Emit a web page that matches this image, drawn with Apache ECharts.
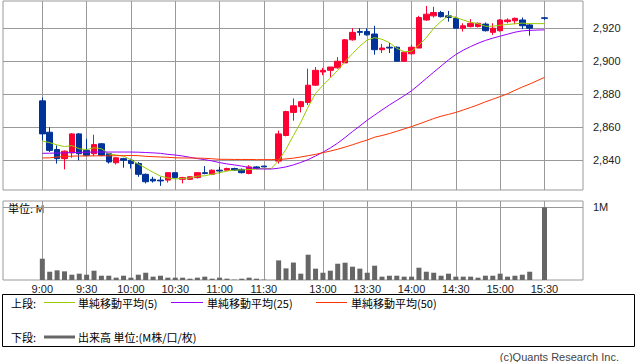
<!DOCTYPE html>
<html><head><meta charset="utf-8">
<script src="https://cdn.jsdelivr.net/npm/echarts@6/dist/echarts.min.js"></script>
<style>html,body{margin:0;padding:0;background:#fff}#c{width:638px;height:362px}</style>
</head><body><div id="c"></div>
<script>
// category slots (5-minute bars, incl. padding / lunch gap / closing-auction gap)
const slots = ['8:35','8:40','8:45','8:50','8:55',
 '9:00','9:05','9:10','9:15','9:20','9:25','9:30','9:35','9:40','9:45','9:50','9:55',
 '10:00','10:05','10:10','10:15','10:20','10:25','10:30','10:35','10:40','10:45','10:50','10:55',
 '11:00','11:05','11:10','11:15','11:20','11:25','11:30','11:35',
 '12:30','12:35','12:40','12:45','12:50','12:55',
 '13:00','13:05','13:10','13:15','13:20','13:25','13:30','13:35','13:40','13:45','13:50','13:55',
 '14:00','14:05','14:10','14:15','14:20','14:25','14:30','14:35','14:40','14:45','14:50','14:55',
 '15:00','15:05','15:10','15:15','15:20','15:25','15:30',
 '15:35','15:40','15:45','15:50','15:55'];
const tickLabels = ['9:00','9:30','10:00','10:30','11:00','11:30','13:00','13:30','14:00','14:30','15:00','15:30'];
const priceTicks = [2840, 2860, 2880, 2900, 2920];
const volTicks = [1];

const barTimes = ['9:00','9:05','9:10','9:15','9:20','9:25','9:30','9:35','9:40','9:45','9:50','9:55',
 '10:00','10:05','10:10','10:15','10:20','10:25','10:30','10:35','10:40','10:45','10:50','10:55',
 '11:00','11:05','11:10','11:15','11:20','11:25','11:30',
 '12:30','12:35','12:40','12:45','12:50','12:55',
 '13:00','13:05','13:10','13:15','13:20','13:25','13:30','13:35','13:40','13:45','13:50','13:55',
 '14:00','14:05','14:10','14:15','14:20','14:25','14:30','14:35','14:40','14:45','14:50','14:55',
 '15:00','15:05','15:10','15:15','15:20','15:30'];
const openP = [2876,2857,2846.5,2841,2844.5,2856,2846,2844,2850,2844,2838.5,2841,
 2840,2838,2831.5,2828.5,2828,2828,2832.5,2828.5,2828.5,2829.5,2832.5,2831.5,
 2834,2834,2835,2834.5,2832,2836,2836.5,
 2839.5,2855,2869,2872.5,2875,2885.5,
 2893.5,2894.5,2896,2899,2913,2918,2918,2916.5,2907,2908.5,2908.5,2900,
 2904.5,2908,2925,2927.5,2929.5,2927.5,2926,2920,2921,2921,2922.5,2917.5,
 2918.5,2924,2924.5,2925,2922,2926.3];
const closeP = [2856,2846,2841,2845.5,2856,2844,2843,2849.5,2843,2839,2841.5,2840,
 2838,2831.5,2827,2827.5,2827.5,2832.5,2829.5,2829.5,2830,2832.5,2832,2834,
 2833.5,2835,2834,2832.5,2836,2835,2836,
 2856,2869.5,2873,2875.5,2885.5,2894.5,
 2894.5,2896.5,2900,2913,2917.5,2917.5,2916,2907,2908,2908,2900,2905.5,
 2908.5,2926.5,2928.5,2929.5,2927,2926.5,2920,2921.5,2923,2923,2918.5,2920,
 2925,2925,2926,2921.5,2920,2926];
const lowP = [2852,2845,2838,2834.5,2841.5,2840,2842.5,2842.5,2842.5,2838,2837.5,2835.5,
 2835,2830,2826,2826.5,2824.5,2826.5,2829,2826,2828,2829,2831.5,2831,
 2832,2833.5,2833.5,2832,2831.5,2834.5,2836,
 2838,2854.5,2864,2869,2873.5,2885,
 2891.5,2890.5,2895.5,2899,2912.5,2915.5,2915.5,2904,2905,2905,2900,2899.5,
 2904,2908,2924.5,2926.5,2926.5,2924,2920,2918,2920.5,2920.5,2918,2916,
 2918,2923,2922.5,2919.5,2915.5,2925];
const highP = [2878,2860,2849,2846,2856.5,2856.5,2853,2855.5,2850.5,2844.5,2842,2841.5,
 2841,2839,2832,2830,2830,2832.5,2832.5,2830,2830.5,2832.5,2836.5,2834.5,
 2836,2835.5,2835.5,2835,2837,2836.5,2836.5,
 2858,2870,2877.5,2876,2895.5,2896.5,
 2896,2896.5,2902.5,2913.5,2920,2920,2920,2921.5,2910.5,2911,2909,2906,
 2910,2927.5,2933.5,2933,2930.5,2930.5,2927,2923,2925.5,2923.5,2923.5,2923,
 2925.5,2926,2926.5,2926.5,2922.5,2926.8];
// volume in millions
const volume = [0.293,0.114,0.133,0.119,0.073,0.087,0.073,0.128,0.059,0.059,0.032,0.059,
 0.032,0.073,0.100,0.046,0.059,0.032,0.032,0.032,0.018,0.032,0.046,0.018,
 0.032,0.018,0.005,0.018,0.032,0.018,0.005,
 0.270,0.160,0.240,0.087,0.348,0.156,
 0.100,0.128,0.224,0.238,0.183,0.156,0.100,0.197,0.046,0.059,0.059,0.046,
 0.046,0.169,0.114,0.100,0.059,0.087,0.046,0.046,0.046,0.032,0.059,0.059,
 0.087,0.046,0.059,0.073,0.114,1.000];

// moving averages: slots 9:00 .. 15:30 (incl. 11:35 gap and 15:25)
const maTimes = slots.slice(5, 74);
const ma5 = [2851.7,2850.7,2849.3,2848.3,2848.9,2847.0,2846.4,2847.6,2847.0,2843.9,2843.2,2842.5,
 2840.3,2837.7,2835.2,2832.7,2830.4,2829.3,2828.7,2829.0,2829.3,2830.4,2830.6,2831.6,
 2832.5,2833.5,2834.0,2834.2,2834.4,2834.7,2835.0,2835.0,
 2839.8,2846.7,2855.0,2863.0,2872.3,2880.5,
 2885.5,2889.8,2894.5,2899.8,2904.6,2909.2,2912.9,2914.3,2913.3,2911.3,2907.8,2905.8,
 2906.0,2909.9,2914.3,2919.9,2924.2,2927.6,2926.5,2925.0,2923.6,2922.8,2921.2,2921.2,
 2921.8,2922.3,2922.7,2923.1,2922.8,2922.8,2922.8];
const ma25 = [2844.2,2844.3,2844.4,2844.5,2844.7,2844.8,2844.9,2845.0,2845.0,2845.0,2845.0,2845.0,
 2845.0,2844.9,2844.7,2844.5,2844.2,2843.6,2843.2,2842.6,2841.8,2841.0,2840.4,2839.6,
 2838.6,2837.8,2837.2,2836.5,2835.6,2834.9,2834.7,2834.7,
 2835.2,2836.0,2837.2,2838.7,2840.4,2842.6,
 2844.9,2847.5,2850.4,2853.8,2857.4,2860.8,2864.3,2867.4,2870.5,2873.5,2876.3,2879.1,
 2882.1,2885.8,2889.6,2893.4,2897.1,2900.8,2904.1,2906.7,2908.9,2910.9,2912.6,2914.0,
 2915.2,2916.4,2917.6,2918.4,2918.7,2918.9,2919.0];
const ma50 = [2841.4,2841.5,2842.0,2842.3,2842.5,2842.6,2842.6,2842.7,2842.7,2842.7,2842.8,2842.8,
 2842.9,2842.8,2842.4,2842.2,2842.0,2841.8,2841.5,2841.4,2841.4,2841.3,2841.2,2840.9,
 2840.6,2840.6,2840.5,2840.5,2840.5,2840.4,2840.4,2840.4,
 2840.5,2840.8,2841.3,2842.0,2842.8,2843.6,
 2844.6,2845.6,2846.7,2848.0,2849.4,2850.9,2852.3,2854.0,2855.0,2856.2,2857.6,2859.0,
 2860.4,2862.0,2863.6,2865.3,2866.7,2867.8,2869.0,2870.5,2872.0,2873.6,2875.4,2877.0,
 2878.6,2880.3,2882.4,2884.4,2886.2,2888.2,2890.2];

const candleData = slots.map(() => ['-','-','-','-']);
const volData = slots.map(() => '-');
barTimes.forEach((t, i) => {
  const k = slots.indexOf(t);
  candleData[k] = [openP[i], closeP[i], lowP[i], highP[i]];
  volData[k] = volume[i];
});
function lineData(arr) {
  const d = slots.map(() => '-');
  maTimes.forEach((t, i) => { d[slots.indexOf(t)] = arr[i]; });
  return d;
}
const showTick = (i, v) => tickLabels.indexOf(v) >= 0;
const NUMF = 'Liberation Sans, Arial, sans-serif';
const JPF = 'Noto Sans CJK JP, sans-serif';
const GRID = '#999999';
const C5 = '#99cc00', C25 = '#9900ff', C50 = '#ff3300';

const chart = echarts.init(document.getElementById('c'), null, {renderer: 'svg'});
chart.setOption({
  animation: false,
  backgroundColor: '#ffffff',
  grid: [
    {left: 3, top: 1, width: 580, height: 189, show: true, borderColor: GRID, borderWidth: 1, outerBoundsMode: 'none'},
    {left: 5.4, top: 1, width: 576, height: 189, outerBoundsMode: 'none'},
    {left: 3, top: 201, width: 580, height: 79, show: true, borderColor: GRID, borderWidth: 1, outerBoundsMode: 'none'},
    {left: 5.4, top: 201, width: 576, height: 79, outerBoundsMode: 'none'}
  ],
  xAxis: [
    {gridIndex: 0, type: 'value', show: false, min: 0, max: 1},
    {gridIndex: 1, type: 'category', data: slots, boundaryGap: false,
     axisLine: {show: false}, axisTick: {show: false}, axisLabel: {show: false},
     splitLine: {show: true, interval: showTick, lineStyle: {color: GRID, width: 1}}},
    {gridIndex: 2, type: 'value', show: false, min: 0, max: 1},
    {gridIndex: 3, type: 'category', data: slots, boundaryGap: false,
     axisLine: {show: false}, axisTick: {show: false},
     axisLabel: {show: true, interval: showTick, margin: 3, fontSize: 11, color: '#222', fontFamily: NUMF},
     splitLine: {show: true, interval: showTick, lineStyle: {color: GRID, width: 1}}}
  ],
  yAxis: [
    {gridIndex: 0, type: 'value', position: 'right', min: 2822, max: 2936.5, minInterval: 20, maxInterval: 20,
     axisLine: {show: false},
     axisTick: {show: true, length: 5, customValues: priceTicks, lineStyle: {color: GRID}},
     axisLabel: {customValues: priceTicks, margin: 10, fontSize: 11, color: '#222', fontFamily: NUMF,
       formatter: v => v.toLocaleString('en-US')},
     splitLine: {show: true, lineStyle: {color: GRID, width: 1}}},
    {gridIndex: 1, type: 'value', min: 2822, max: 2936.5, show: false, splitLine: {show: false}},
    {gridIndex: 2, type: 'value', position: 'right', min: 0, max: 1.087, minInterval: 1, maxInterval: 1,
     axisLine: {show: false},
     axisTick: {show: true, length: 5, customValues: volTicks, lineStyle: {color: GRID}},
     axisLabel: {customValues: volTicks, margin: 10, fontSize: 11, color: '#222', fontFamily: NUMF,
       formatter: v => v + 'M'},
     splitLine: {show: true, lineStyle: {color: GRID, width: 1}}},
    {gridIndex: 3, type: 'value', min: 0, max: 1.087, show: false, splitLine: {show: false}}
  ],
  series: [
    {type: 'candlestick', xAxisIndex: 1, yAxisIndex: 1, data: candleData, barWidth: 6, z: 2,
     itemStyle: {color: '#ff0033', color0: '#003399', borderColor: '#ff0033', borderColor0: '#003399', borderWidth: 1}},
    {type: 'line', name: '単純移動平均(5)', xAxisIndex: 1, yAxisIndex: 1, data: lineData(ma5), symbol: 'none', z: 3,
     lineStyle: {color: C5, width: 1}},
    {type: 'line', name: '単純移動平均(25)', xAxisIndex: 1, yAxisIndex: 1, data: lineData(ma25), symbol: 'none', z: 3,
     lineStyle: {color: C25, width: 1}},
    {type: 'line', name: '単純移動平均(50)', xAxisIndex: 1, yAxisIndex: 1, data: lineData(ma50), symbol: 'none', z: 3,
     lineStyle: {color: C50, width: 1}},
    {type: 'bar', name: '出来高', xAxisIndex: 3, yAxisIndex: 3, data: volData, barWidth: 5,
     itemStyle: {color: '#666666'}}
  ],
  graphic: [
    {type: 'text', left: 8, top: 202, style: {text: '単位: M', fontSize: 11, fontFamily: JPF, fill: '#000'}},
    {type: 'rect', shape: {x: 2.5, y: 294.5, width: 632, height: 52}, style: {fill: 'transparent', stroke: '#000', lineWidth: 1}},
    {type: 'text', x: 11, y: 303, style: {text: '上段:', fontSize: 11, fontFamily: JPF, fill: '#000', verticalAlign: 'middle'}},
    {type: 'line', shape: {x1: 44, y1: 302.5, x2: 75, y2: 302.5}, style: {stroke: C5, lineWidth: 1}},
    {type: 'text', x: 78, y: 303, style: {text: '単純移動平均(5)', fontSize: 11, fontFamily: JPF, fill: '#000', verticalAlign: 'middle'}},
    {type: 'line', shape: {x1: 171, y1: 302.5, x2: 203, y2: 302.5}, style: {stroke: C25, lineWidth: 1}},
    {type: 'text', x: 207, y: 303, style: {text: '単純移動平均(25)', fontSize: 11, fontFamily: JPF, fill: '#000', verticalAlign: 'middle'}},
    {type: 'line', shape: {x1: 316, y1: 302.5, x2: 347, y2: 302.5}, style: {stroke: C50, lineWidth: 1}},
    {type: 'text', x: 351, y: 303, style: {text: '単純移動平均(50)', fontSize: 11, fontFamily: JPF, fill: '#000', verticalAlign: 'middle'}},
    {type: 'text', x: 11, y: 337, style: {text: '下段:', fontSize: 11, fontFamily: JPF, fill: '#000', verticalAlign: 'middle'}},
    {type: 'line', shape: {x1: 44, y1: 337, x2: 75, y2: 337}, style: {stroke: '#666666', lineWidth: 3}},
    {type: 'text', x: 78, y: 337, style: {text: '出来高 単位:(M株/口/枚)', fontSize: 11, fontFamily: JPF, fill: '#000', verticalAlign: 'middle'}},
    {type: 'text', x: 619, y: 357, style: {text: '(c)Quants Research Inc.', fontSize: 11, fontFamily: NUMF, fill: '#444', align: 'right', verticalAlign: 'middle'}}
  ]
});
</script></body></html>
